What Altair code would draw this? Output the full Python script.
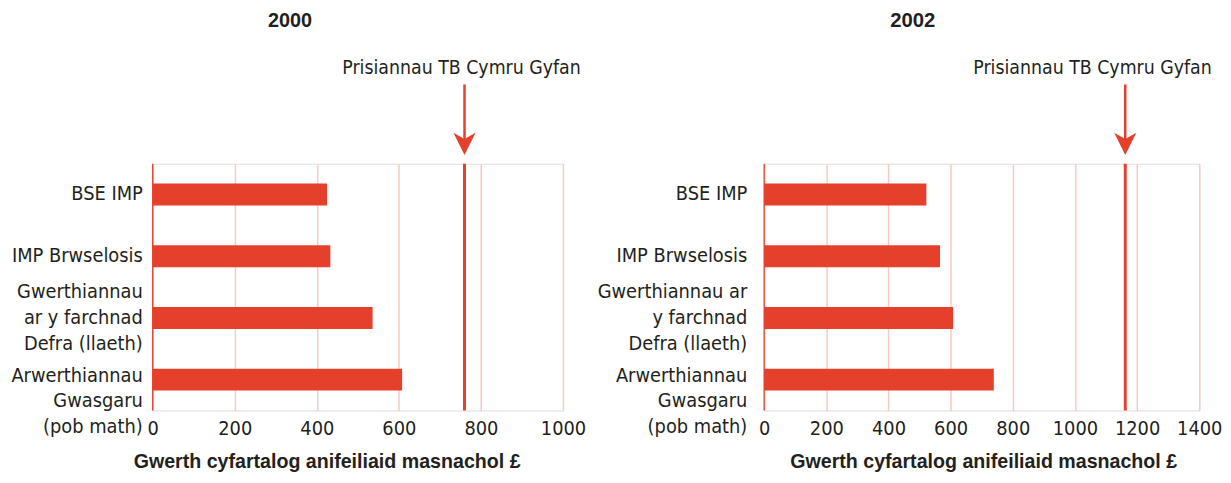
import altair as alt
import pandas as pd

categories = ["BSE IMP", "IMP Brwselosis",
              "Gwerthiannau ar y farchnad Defra (llaeth)",
              "Arwerthiannau Gwasgaru (pob math)"]
labels_2000 = ["BSE IMP", "IMP Brwselosis",
               "Gwerthiannau\nar y farchnad\nDefra (llaeth)",
               "Arwerthiannau\nGwasgaru\n(pob math)"]
labels_2002 = ["BSE IMP", "IMP Brwselosis",
               "Gwerthiannau ar\ny farchnad\nDefra (llaeth)",
               "Arwerthiannau\nGwasgaru\n(pob math)"]
values_2000 = [425, 433, 536, 608]
values_2002 = [522, 566, 608, 739]
tb_price_2000 = 760
tb_price_2002 = 1162
ticks_2000 = [0, 200, 400, 600, 800, 1000]
ticks_2002 = [0, 200, 400, 600, 800, 1000, 1200, 1400]
years = ["2000", "2002"]
annotation = "Prisiannau TB Cymru Gyfan"
x_title = "Gwerth cyfartalog anifeiliaid masnachol £"

RED = "#e4402b"
GRID = "#f7cbbd"
TXT = "#231f20"
FONT = "DejaVu Sans Condensed, sans-serif"
BFONT = "Liberation Sans, Arial, sans-serif"
FS = 20
H = 249


def panel(year, labels, values, tb, ticks, width, label_x, year_x, year_size,
          xtitle_x, xtitle_size, ann_dx):
    df = pd.DataFrame({"cat": categories, "label": labels, "value": values})
    xscale = alt.Scale(domain=[0, ticks[-1]], nice=False, zero=True)
    axis = alt.Axis(values=ticks, grid=True, gridColor=GRID, gridWidth=1.5,
                    domain=False, ticks=False, labelFont=FONT, labelFontSize=FS,
                    labelColor=TXT, labelPadding=8, labelFlush=False,
                    labelOverlap=False, format="d",
                    title=x_title, titleFont=BFONT, titleFontSize=xtitle_size,
                    titleFontWeight="bold", titleColor=TXT, titleX=xtitle_x,
                    titleY=52, titleBaseline="middle", titleAlign="center")
    xenc = alt.X("value:Q", scale=xscale, axis=axis)
    yenc = alt.Y("cat:N", sort=categories,
                 scale=alt.Scale(paddingInner=0.645, paddingOuter=0.3225),
                 axis=None)
    base = alt.Chart(df)
    bars = base.mark_bar(color=RED).encode(x=xenc, y=yenc)

    zero = alt.Chart(pd.DataFrame({"value": [0]})).mark_rule(
        color=RED, strokeWidth=1.3).encode(x=xenc, y=alt.value(0), y2=alt.value(H))

    tb_df = pd.DataFrame({"value": [tb], "text": [annotation]})
    tb_base = alt.Chart(tb_df)
    tb_line = tb_base.mark_rule(color=RED, strokeWidth=3).encode(
        x=xenc, y=alt.value(0), y2=alt.value(H))
    shaft = tb_base.mark_rule(color=RED, strokeWidth=2.5).encode(
        x=xenc, y=alt.value(-80), y2=alt.value(-24))
    head = tb_base.mark_point(shape="M-1,-1L0,-0.45L1,-1L0,1Z", filled=True,
                              size=500, opacity=1, color=RED, strokeWidth=0).encode(
        x=xenc, y=alt.value(-20))
    ann = tb_base.mark_text(dx=ann_dx, font=FONT, fontSize=19.5, color=TXT,
                            baseline="middle").encode(
        x=xenc, y=alt.value(-97), text="text:N")

    def lab(cond, dy):
        return base.transform_filter(cond).mark_text(
            align="right", baseline="middle", lineBreak="\n", lineHeight=26,
            dy=dy, font=FONT, fontSize=FS, color=TXT).encode(
            x=alt.value(label_x), y=yenc, text="label:N")

    lab_single = lab(alt.FieldOneOfPredicate(field="cat", oneOf=categories[:2]), 0)
    lab_third = lab(alt.datum.cat == categories[2], -26)
    lab_last = lab(alt.datum.cat == categories[3], -4)

    ytitle = alt.Chart(pd.DataFrame({"t": [year]})).mark_text(
        font=BFONT, fontSize=year_size, fontWeight="bold", color=TXT,
        baseline="middle").encode(x=alt.value(year_x), y=alt.value(-144), text="t:N")

    return alt.layer(bars, zero, tb_line, shaft, head, ann, lab_single, lab_third,
                     lab_last, ytitle).properties(width=width, height=H)


left = panel(years[0], labels_2000, values_2000, tb_price_2000, ticks_2000, 414,
             -10, 138.5, 20, 175.5, 19.8, -3)
right = panel(years[1], labels_2002, values_2002, tb_price_2002, ticks_2002, 439,
              -17, 150, 20.5, 221, 19.8, -33)

chart = alt.HConcatChart(hconcat=[left, right], spacing=203, bounds="flush").properties(
    padding={"left": 2, "top": 0, "right": 0, "bottom": 0}
).configure_view(stroke=None).configure(background="white")

chart.save("out.html", embed_options={"renderer": "svg", "actions": False})
